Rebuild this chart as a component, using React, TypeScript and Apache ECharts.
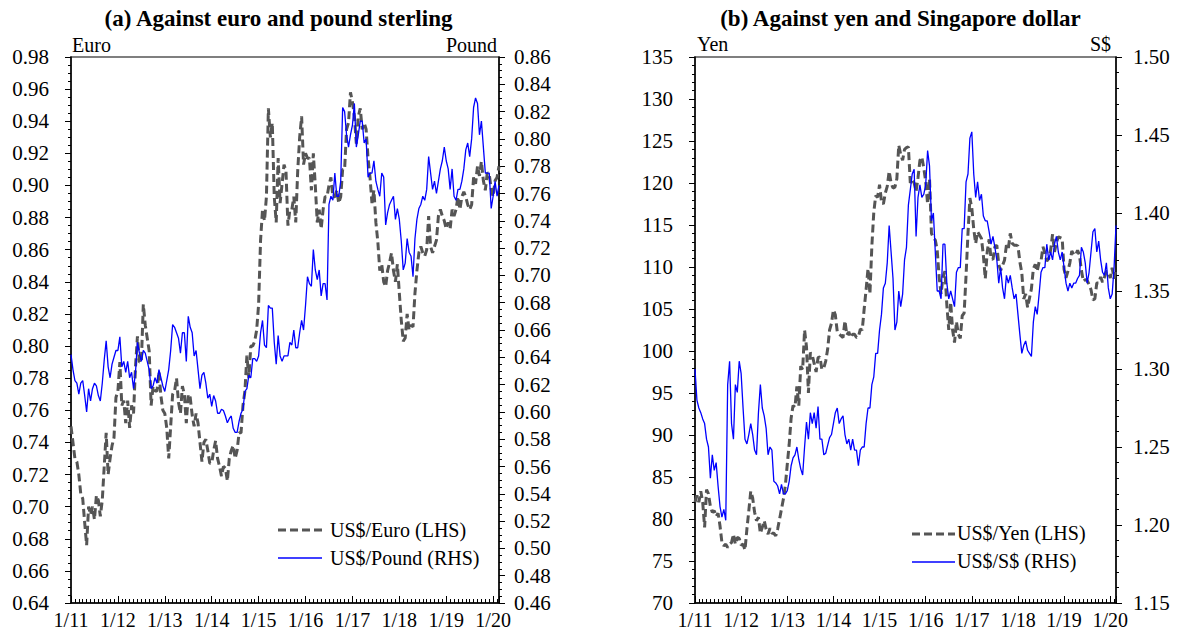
import React, { useEffect, useRef } from "react";
import * as echarts from "echarts";

// Year tick labels (one per January)
const YEAR_LABELS = ["1/11", "1/12", "1/13", "1/14", "1/15", "1/16", "1/17", "1/18", "1/19", "1/20"];

// Observations every half month, from Jan 2011 to mid-Feb 2020
const STEP_MONTHS = 0.5;

// US$/Euro (LHS, panel a)
const EURO = [
  0.750, 0.740, 0.730, 0.728, 0.720, 0.708, 0.705, 0.690, 0.676, 0.700, 0.695, 0.700, 0.692, 0.707, 0.704, 0.694, 0.704, 0.725, 0.746, 0.720, 0.730, 0.738, 0.743, 0.768,
  0.772, 0.790, 0.763, 0.766, 0.752, 0.766, 0.749, 0.763, 0.758, 0.787, 0.806, 0.790, 0.790, 0.826, 0.813, 0.805, 0.797, 0.763, 0.775, 0.772, 0.772, 0.784, 0.769, 0.760,
  0.758, 0.749, 0.730, 0.750, 0.770, 0.772, 0.780, 0.765, 0.758, 0.775, 0.770, 0.752, 0.770, 0.768, 0.757, 0.750, 0.758, 0.752, 0.740, 0.728, 0.740, 0.742, 0.735, 0.727,
  0.727, 0.735, 0.741, 0.730, 0.725, 0.719, 0.725, 0.724, 0.716, 0.730, 0.735, 0.738, 0.730, 0.735, 0.746, 0.746, 0.763, 0.772, 0.794, 0.780, 0.800, 0.800, 0.803, 0.810,
  0.826, 0.866, 0.885, 0.878, 0.893, 0.948, 0.930, 0.939, 0.893, 0.877, 0.917, 0.889, 0.901, 0.913, 0.909, 0.875, 0.885, 0.885, 0.893, 0.877, 0.909, 0.930, 0.943, 0.913,
  0.920, 0.917, 0.917, 0.897, 0.920, 0.900, 0.877, 0.885, 0.873, 0.885, 0.893, 0.893, 0.900, 0.905, 0.893, 0.893, 0.897, 0.889, 0.893, 0.910, 0.910, 0.935, 0.939, 0.958,
  0.952, 0.943, 0.926, 0.943, 0.948, 0.935, 0.939, 0.935, 0.917, 0.905, 0.889, 0.897, 0.877, 0.865, 0.847, 0.851, 0.840, 0.837, 0.847, 0.852, 0.858, 0.847, 0.840, 0.851,
  0.833, 0.816, 0.803, 0.805, 0.820, 0.810, 0.813, 0.812, 0.833, 0.847, 0.858, 0.862, 0.858, 0.856, 0.860, 0.881, 0.862, 0.858, 0.862, 0.866, 0.881, 0.885, 0.881, 0.878,
  0.873, 0.877, 0.873, 0.885, 0.881, 0.885, 0.893, 0.885, 0.893, 0.896, 0.893, 0.888, 0.885, 0.888, 0.905, 0.901, 0.912, 0.906, 0.915, 0.903, 0.897, 0.908, 0.907, 0.898,
  0.893, 0.903, 0.905, 0.912,
];

// US$/Pound (RHS, panel a)
const POUND = [
  0.642, 0.631, 0.623, 0.621, 0.613, 0.621, 0.623, 0.612, 0.600, 0.617, 0.608, 0.617, 0.621, 0.619, 0.612, 0.608, 0.621, 0.638, 0.652, 0.633, 0.625, 0.635, 0.640, 0.645,
  0.645, 0.655, 0.633, 0.637, 0.629, 0.637, 0.625, 0.629, 0.617, 0.629, 0.651, 0.643, 0.637, 0.645, 0.643, 0.637, 0.631, 0.617, 0.619, 0.625, 0.621, 0.631, 0.625, 0.619,
  0.615, 0.623, 0.631, 0.645, 0.664, 0.662, 0.658, 0.654, 0.643, 0.658, 0.658, 0.637, 0.670, 0.662, 0.658, 0.641, 0.645, 0.631, 0.617, 0.627, 0.629, 0.621, 0.610, 0.613,
  0.604, 0.612, 0.608, 0.599, 0.599, 0.602, 0.601, 0.597, 0.592, 0.595, 0.597, 0.588, 0.585, 0.585, 0.593, 0.599, 0.602, 0.615, 0.617, 0.627, 0.625, 0.639, 0.639, 0.637,
  0.641, 0.658, 0.667, 0.649, 0.647, 0.678, 0.676, 0.676, 0.651, 0.635, 0.656, 0.641, 0.637, 0.641, 0.641, 0.641, 0.651, 0.649, 0.660, 0.647, 0.647, 0.658, 0.667, 0.660,
  0.678, 0.699, 0.694, 0.692, 0.719, 0.704, 0.697, 0.704, 0.685, 0.694, 0.694, 0.682, 0.752, 0.758, 0.755, 0.775, 0.758, 0.758, 0.769, 0.823, 0.820, 0.803, 0.794, 0.803,
  0.810, 0.826, 0.794, 0.803, 0.813, 0.813, 0.797, 0.800, 0.772, 0.775, 0.775, 0.784, 0.769, 0.763, 0.758, 0.775, 0.772, 0.737, 0.746, 0.752, 0.755, 0.758, 0.741, 0.749,
  0.741, 0.725, 0.704, 0.709, 0.727, 0.717, 0.714, 0.699, 0.727, 0.741, 0.749, 0.752, 0.758, 0.755, 0.763, 0.787, 0.775, 0.763, 0.769, 0.760, 0.769, 0.778, 0.784, 0.794,
  0.784, 0.778, 0.763, 0.778, 0.758, 0.755, 0.763, 0.763, 0.769, 0.778, 0.792, 0.797, 0.787, 0.800, 0.823, 0.830, 0.826, 0.803, 0.813, 0.794, 0.775, 0.775, 0.775, 0.749,
  0.758, 0.769, 0.758, 0.766,
];

// US$/Yen (LHS, panel b)
const YEN = [
  82.0, 82.8, 82.0, 83.3, 82.0, 79.0, 83.5, 83.0, 81.5, 80.8, 81.0, 80.3, 80.7, 79.2, 77.2, 76.8, 77.0, 76.6, 77.0, 77.2, 78.2, 77.0, 77.8, 77.7,
  76.9, 77.0, 76.3, 78.8, 81.0, 83.3, 82.5, 80.8, 79.8, 80.2, 78.3, 79.0, 79.8, 78.8, 78.2, 78.9, 78.3, 78.3, 78.0, 78.8, 80.0, 81.2, 82.4, 84.0,
  86.5, 88.9, 92.0, 93.5, 93.3, 95.8, 93.5, 98.2, 97.8, 102.5, 100.5, 95.0, 99.8, 99.5, 98.5, 97.5, 99.2, 99.3, 97.8, 98.0, 98.8, 100.2, 102.5, 103.3,
  104.9, 104.3, 102.3, 102.0, 101.8, 101.6, 103.6, 101.9, 102.3, 101.6, 102.0, 102.0, 101.6, 101.7, 102.6, 102.5, 105.0, 107.3, 109.8, 106.8, 112.5, 116.5, 118.5, 118.3,
  119.8, 117.8, 117.5, 118.8, 119.6, 121.4, 120.0, 119.4, 119.5, 120.5, 124.5, 123.4, 122.7, 124.0, 124.2, 124.3, 120.0, 120.4, 120.0, 119.0, 120.6, 122.7, 123.1, 121.8,
  120.2, 117.5, 120.5, 114.0, 113.5, 113.2, 112.0, 108.8, 106.8, 108.8, 109.5, 105.5, 102.5, 105.8, 102.5, 101.0, 103.5, 102.0, 101.5, 104.2, 104.5, 109.0, 114.0, 118.2,
  117.0, 114.5, 112.8, 114.2, 113.8, 113.4, 111.4, 108.6, 111.8, 113.3, 111.0, 110.9, 112.4, 112.6, 110.3, 109.6, 110.2, 110.8, 112.6, 112.2, 114.0, 112.8, 112.6, 112.6,
  112.5, 110.6, 109.3, 106.2, 106.8, 105.2, 106.3, 107.4, 109.8, 110.3, 109.5, 110.6, 110.7, 112.4, 111.7, 110.7, 111.0, 112.0, 113.9, 111.8, 112.9, 113.6, 113.5, 113.4,
  109.7, 108.7, 109.5, 110.5, 111.9, 111.5, 111.4, 112.0, 111.4, 109.6, 108.3, 108.5, 108.4, 107.9, 107.3, 106.1, 106.2, 108.1, 108.1, 108.8, 108.2, 108.8, 109.5, 109.4,
  108.7, 109.9, 108.6, 109.8,
];

// US$/S$ (RHS, panel b)
const SGD = [
  1.300, 1.280, 1.275, 1.272, 1.268, 1.265, 1.255, 1.250, 1.230, 1.245, 1.235, 1.240, 1.225, 1.212, 1.205, 1.210, 1.203, 1.290, 1.305, 1.265, 1.255, 1.290, 1.285, 1.305,
  1.297, 1.275, 1.255, 1.252, 1.258, 1.265, 1.258, 1.248, 1.245, 1.272, 1.290, 1.275, 1.270, 1.262, 1.245, 1.250, 1.248, 1.228, 1.227, 1.225, 1.220, 1.226, 1.220, 1.220,
  1.222, 1.228, 1.238, 1.243, 1.245, 1.250, 1.242, 1.236, 1.232, 1.250, 1.266, 1.255, 1.272, 1.265, 1.272, 1.262, 1.276, 1.255, 1.255, 1.245, 1.246, 1.251, 1.256, 1.258,
  1.265, 1.272, 1.275, 1.265, 1.268, 1.270, 1.258, 1.252, 1.255, 1.248, 1.255, 1.248, 1.248, 1.238, 1.248, 1.250, 1.250, 1.265, 1.275, 1.275, 1.290, 1.295, 1.310, 1.310,
  1.325, 1.335, 1.352, 1.355, 1.368, 1.392, 1.375, 1.358, 1.325, 1.330, 1.350, 1.340, 1.348, 1.370, 1.378, 1.405, 1.415, 1.425, 1.428, 1.385, 1.410, 1.418, 1.410, 1.412,
  1.418, 1.440, 1.430, 1.395, 1.400, 1.375, 1.350, 1.350, 1.345, 1.380, 1.380, 1.355, 1.345, 1.350, 1.345, 1.340, 1.362, 1.365, 1.365, 1.390, 1.390, 1.420, 1.425, 1.448,
  1.452, 1.425, 1.410, 1.420, 1.408, 1.412, 1.398, 1.395, 1.395, 1.388, 1.380, 1.385, 1.378, 1.370, 1.355, 1.365, 1.352, 1.345, 1.360, 1.355, 1.360, 1.352, 1.345, 1.348,
  1.335, 1.322, 1.310, 1.315, 1.318, 1.312, 1.310, 1.308, 1.330, 1.340, 1.335, 1.348, 1.362, 1.365, 1.365, 1.380, 1.370, 1.375, 1.370, 1.380, 1.385, 1.375, 1.370, 1.375,
  1.365, 1.355, 1.350, 1.355, 1.352, 1.355, 1.355, 1.358, 1.360, 1.378, 1.375, 1.368, 1.355, 1.362, 1.375, 1.388, 1.390, 1.375, 1.382, 1.370, 1.362, 1.360, 1.368, 1.352,
  1.345, 1.348, 1.365, 1.392,
];

// Legend entries: [label, kind]
const LEGEND_A = ["US$/Euro (LHS)", "US$/Pound (RHS)"];
const LEGEND_B = ["US$/Yen (LHS)", "US$/S$ (RHS)"];

const FONT = "Liberation Serif, Times New Roman, serif";
const GRAY = "#555555";
const BLUE = "#0000ff";
const DASH = [8, 4];

function pairs(vals: number[]) {
  return vals.map((v, i) => [i * STEP_MONTHS, v]);
}

const X_MAX = (EURO.length - 1) * STEP_MONTHS;

function xAxes(gridIndex: number) {
  return [
    {
      type: "value",
      gridIndex,
      position: "bottom",
      min: 0,
      max: X_MAX,
      interval: 12,
      axisLine: { show: true, onZero: false, lineStyle: { color: "#000", width: 1.5 } },
      axisTick: { show: true, inside: true, length: 7, lineStyle: { color: "#000", width: 1 } },
      axisLabel: {
        show: true,
        margin: 7,
        color: "#000",
        fontFamily: FONT,
        fontSize: 20,
        formatter: (v: number) => {
          const k = Math.round(v / 12);
          return Math.abs(v - k * 12) < 1e-6 && YEAR_LABELS[k] ? YEAR_LABELS[k] : "";
        },
      },
      splitLine: { show: false },
      minorTick: { show: false },
    },
    {
      type: "value",
      gridIndex,
      position: "bottom",
      min: 0,
      max: X_MAX,
      interval: 1,
      axisLine: { show: false, onZero: false },
      axisTick: { show: true, inside: true, length: 4, lineStyle: { color: "#000", width: 1 } },
      axisLabel: { show: false },
      splitLine: { show: false },
    },
  ];
}

function yAxis(
  gridIndex: number,
  position: string,
  min: number,
  max: number,
  interval: number,
  split: number,
  decimals: number,
  margin: number
) {
  return {
    type: "value",
    gridIndex,
    position,
    min,
    max,
    interval,
    axisLine: { show: true, onZero: false, lineStyle: { color: "#000", width: 1.5 } },
    axisTick: { show: true, inside: false, length: 6, lineStyle: { color: "#000", width: 1 } },
    minorTick: { show: true, splitNumber: split, length: 3, lineStyle: { color: "#000", width: 1 } },
    axisLabel: {
      margin,
      color: "#000",
      fontFamily: FONT,
      fontSize: 21,
      formatter: (v: number) => v.toFixed(decimals),
    },
    splitLine: { show: false },
    minorSplitLine: { show: false },
  };
}

function txt(text: string, x: number, y: number, align: string, font: string) {
  return {
    type: "text",
    x,
    y,
    style: {
      text,
      x: 0,
      y: 0,
      font,
      fill: "#000",
      textAlign: align,
      textVerticalAlign: "middle",
      align,
      verticalAlign: "middle",
    },
  };
}

function legendLine(x1: number, x2: number, y: number, dashed: boolean) {
  return {
    type: "line",
    shape: { x1, y1: y, x2, y2: y },
    style: dashed
      ? { stroke: GRAY, lineWidth: 3, lineDash: DASH }
      : { stroke: BLUE, lineWidth: 1.3 },
  };
}

export default function App() {
  const ref = useRef<HTMLDivElement>(null);

  useEffect(() => {
    if (!ref.current) return;
    const chart = echarts.init(ref.current, undefined, { renderer: "svg" });
    const option: any = {
      animation: false,
      backgroundColor: "#ffffff",
      grid: [
        { left: 71, top: 57, width: 428, height: 546, show: true, borderColor: GRAY, borderWidth: 1.5, backgroundColor: "transparent" },
        { left: 695, top: 57, width: 421, height: 546, show: true, borderColor: GRAY, borderWidth: 1.5, backgroundColor: "transparent" },
      ],
      xAxis: [...xAxes(0), ...xAxes(1)],
      yAxis: [
        yAxis(0, "left", 0.64, 0.98, 0.02, 4, 2, 22),
        yAxis(0, "right", 0.46, 0.86, 0.02, 4, 2, 15),
        yAxis(1, "left", 70, 135, 5, 5, 0, 22),
        yAxis(1, "right", 1.15, 1.5, 0.05, 5, 2, 17),
      ],
      graphic: [
        txt("(a) Against euro and pound sterling", 278.5, 18, "center", `bold 23px ${FONT}`),
        txt("(b) Against yen and Singapore dollar", 900.5, 18, "center", `bold 23px ${FONT}`),
        txt("Euro", 72, 45, "left", `20px ${FONT}`),
        txt("Pound", 497, 45, "right", `20px ${FONT}`),
        txt("Yen", 697, 44, "left", `20px ${FONT}`),
        txt("S$", 1111, 44, "right", `20px ${FONT}`),
        legendLine(278, 322, 530, true),
        txt(LEGEND_A[0], 330, 530, "left", `20px ${FONT}`),
        legendLine(278, 322, 558, false),
        txt(LEGEND_A[1], 330, 558, "left", `20px ${FONT}`),
        legendLine(912, 955, 534, true),
        txt(LEGEND_B[0], 957, 533, "left", `20px ${FONT}`),
        legendLine(912, 955, 562, false),
        txt(LEGEND_B[1], 957, 561, "left", `20px ${FONT}`),
      ],
      series: [
        {
          type: "line",
          name: LEGEND_A[0],
          xAxisIndex: 0,
          yAxisIndex: 0,
          data: pairs(EURO),
          symbol: "none",
          showSymbol: false,
          lineStyle: { color: GRAY, width: 3, type: DASH },
          itemStyle: { color: GRAY },
          z: 2,
        },
        {
          type: "line",
          name: LEGEND_A[1],
          xAxisIndex: 0,
          yAxisIndex: 1,
          data: pairs(POUND),
          symbol: "none",
          showSymbol: false,
          lineStyle: { color: BLUE, width: 1.3 },
          itemStyle: { color: BLUE },
          z: 3,
        },
        {
          type: "line",
          name: LEGEND_B[0],
          xAxisIndex: 2,
          yAxisIndex: 2,
          data: pairs(YEN),
          symbol: "none",
          showSymbol: false,
          lineStyle: { color: GRAY, width: 3, type: DASH },
          itemStyle: { color: GRAY },
          z: 2,
        },
        {
          type: "line",
          name: LEGEND_B[1],
          xAxisIndex: 2,
          yAxisIndex: 3,
          data: pairs(SGD),
          symbol: "none",
          showSymbol: false,
          lineStyle: { color: BLUE, width: 1.3 },
          itemStyle: { color: BLUE },
          z: 3,
        },
      ],
    };
    chart.setOption(option);
    return () => chart.dispose();
  }, []);

  return (
    <div
      ref={ref}
      style={{ position: "absolute", left: 0, top: 0, width: 1180, height: 637, background: "#fff" }}
    />
  );
}
